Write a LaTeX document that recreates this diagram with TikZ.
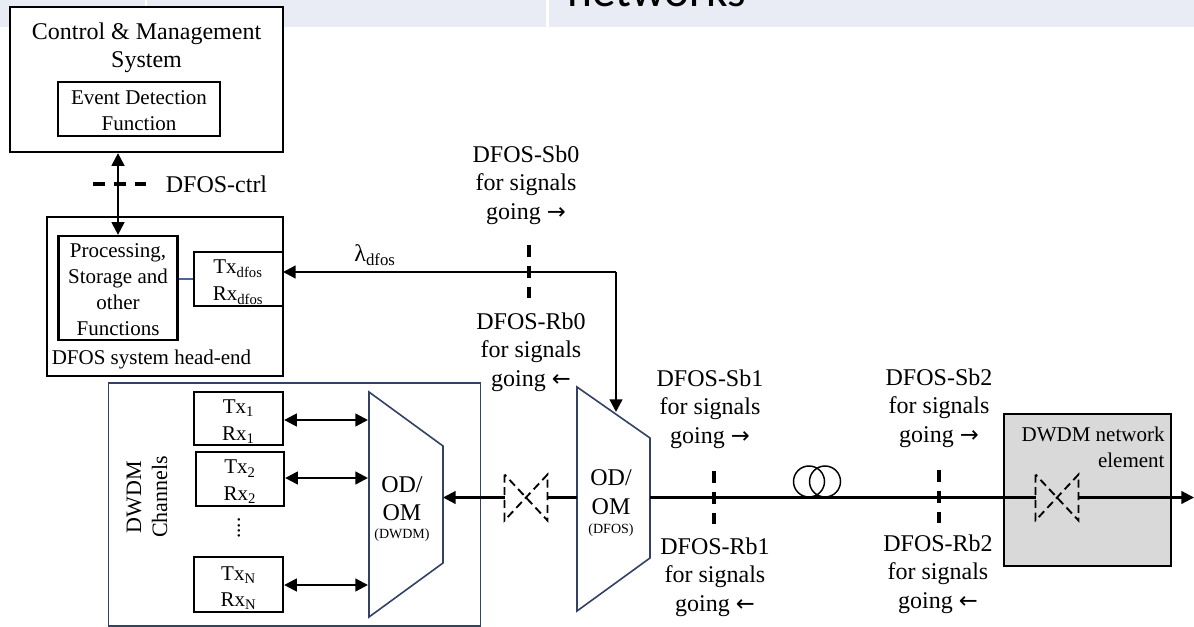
\documentclass[tikz,border=0pt]{standalone}
\usepackage{fontspec}
\setmainfont{Liberation Serif}
\newfontfamily\bannerfont{Carlito}
\newfontfamily\arrowfont{DejaVu Sans}
\usetikzlibrary{arrows.meta}

\tikzset{every picture/.style={line width=0.75pt}}
\tikzset{
  wh/.style 2 args={minimum width=#1*0.75pt,minimum height=#2*0.75pt,inner sep=0pt},
  blockbox/.style={draw,line width=1.7pt,fill=white},
  slatebox/.style={draw=slateline,line width=1.2pt,fill=white},
  bigtext/.style={inner sep=0pt,align=center,font=\fontsize{18}{21.4}\selectfont},
  midtext/.style={inner sep=0pt,align=center,font=\fontsize{15.75}{19.5}\selectfont},
  smalltext/.style={inner sep=0pt,align=center,font=\fontsize{10.5}{13}\selectfont},
  bothtip/.style={line width=1.7pt,{Triangle[length=9.5pt,width=9.5pt]}-{Triangle[length=9.5pt,width=9.5pt]}},
  endtip/.style={line width=1.7pt,-{Triangle[length=9.5pt,width=9.5pt]}},
  plainline/.style={line width=1.7pt},
  refpoint/.style={line width=2.6pt,dash pattern=on 8.75pt off 6.9pt},
  bowtie/.style={line width=1.4pt,dash pattern=on 6pt off 3.5pt},
}
\definecolor{bannerblue}{RGB}{233,235,245}
\definecolor{slateline}{RGB}{50,65,100}
\definecolor{linkblue}{RGB}{74,101,150}
\definecolor{elementgray}{RGB}{217,217,217}

\newcommand{\goright}{going {\arrowfont\fontsize{17}{21.4}\selectfont →}}
\newcommand{\goleft}{going {\arrowfont\fontsize{17}{21.4}\selectfont ←}}

\begin{document}
\begin{tikzpicture}[x=0.75pt,y=0.75pt,yscale=-1,xscale=1]
\useasboundingbox (0,0) rectangle (1194,627);

%Banner
\fill [bannerblue] (0,0) rectangle (145,27);
\fill [bannerblue] (147,0) rectangle (546,27);
\fill [bannerblue] (549,0) rectangle (1194,27);
\draw (567,7) node (banner) [anchor=base west,inner sep=0pt,font=\bannerfont\fontsize{35.5}{40}\selectfont] {networks};

%Control box
\node (ctrl) [blockbox,wh={273}{145}] at (146.5,79.5) {};
\node (event) [blockbox,wh={162}{54}] at (139,109) {};
%Head-end box
\node (headend) [blockbox,wh={236}{159}] at (165,296.5) {};
\node (proc) [blockbox,wh={119}{104}] at (118,288) {};
\node (txd) [blockbox,wh={89}{54}] at (238.5,279) {};
%DWDM box
\node (dwdmbox) [slatebox,wh={372}{243}] at (294.5,504.5) {};
\node (chone) [blockbox,wh={89}{53}] at (238.5,418.5) {};
\node (chtwo) [blockbox,wh={88}{54}] at (240,479) {};
\node (chn) [blockbox,wh={89}{55}] at (238.5,584.5) {};
%Network element
\node (element) [draw,line width=1.7pt,fill=elementgray,wh={167}{152}] at (1087.5,490) {};

%Points on the slanted shapes and free ends
\coordinate (muxa) at (368,420);
\coordinate (muxb) at (368,478);
\coordinate (muxn) at (368,585);
\coordinate (muxout) at (443,497.5);
\coordinate (demuxin) at (577,497.5);
\coordinate (demuxout) at (650,497.5);
\coordinate (demuxtop) at (616,412);
\coordinate (corner) at (616,272);
\coordinate (txport) at (283,272);
\coordinate (lineend) at (1194,497.5);

%Trapezoids
\draw [line width=1.2pt,draw=slateline,fill=white] (369,392) -- (443,446) -- (443,563) -- (369,617) -- cycle ;
\draw [line width=1.2pt,draw=slateline,fill=white] (577,387) -- (650,438) -- (650,558) -- (577,611) -- cycle ;

%Connectors
\draw [bothtip] (ctrl.south -| proc.north) -- (proc.north) ;
\draw [draw=linkblue,line width=1.2pt] (proc.east |- txd.west) -- (txd.west) ;
\draw [endtip] (corner) -- (txport) ;
\draw [endtip] (corner) -- (demuxtop) ;
\draw [bothtip] (chone.east |- muxa) -- (muxa) ;
\draw [bothtip] (chtwo.east |- muxb) -- (muxb) ;
\draw [bothtip] (chn.east |- muxn) -- (muxn) ;

%Bowties
\node (bowa) [fill=white,wh={42}{45}] at (526,497.5) {};
\node (bowb) [wh={42}{45}] at (1057,497.5) {};
\draw [plainline] (demuxin) -- (bowa.east) ;
\draw [endtip] (bowa.west) -- (muxout) ;
\draw [plainline] (demuxout) -- (bowb.west) ;
\draw [endtip] (bowb.east) -- (lineend) ;
\draw [bowtie] (bowa.north west) -- (bowa.south west) -- (bowa.north east) -- (bowa.south east) -- cycle ;
\draw [bowtie] (bowb.north west) -- (bowb.south west) -- (bowb.north east) -- (bowb.south east) -- cycle ;

%Fibre coil
\node (coila) [draw,circle,line width=1.1pt,wh={31}{31}] at (809,481.5) {};
\node (coilb) [draw,circle,line width=1.1pt,wh={31}{31}] at (825,481.5) {};

%Reference points
\coordinate (ctrla) at (93,184);
\coordinate (ctrlb) at (147,184);
\coordinate (sba) at (529,245);
\coordinate (sbb) at (529,298);
\coordinate (sca) at (714,471);
\coordinate (scb) at (714,524);
\coordinate (sda) at (939,470);
\coordinate (sdb) at (939,523);
\draw [refpoint] (ctrla) -- (ctrlb) ;
\draw [refpoint] (sba) -- (sbb) ;
\draw [refpoint] (sca) -- (scb) ;
\draw [refpoint] (sda) -- (sdb) ;

% Text Node
\draw (146.5,48) node (ctrltext) [bigtext] {Control \& Management\\System};
% Text Node
\draw (139,111) node (eventtext) [midtext] {Event Detection\\Function};
% Text Node
\draw (216.5,184) node (ctrllabel) [bigtext] {DFOS-ctrl};
% Text Node
\draw (118,290) node (proctext) [midtext] {Processing,\\Storage and\\other\\Functions};
% Text Node
\draw (151.5,359) node (headtext) [midtext] {DFOS system head-end};
% Text Node
\draw (238,282) node (txdtext) [midtext,font=\fontsize{15.75}{20.5}\selectfont] {Tx\textsubscript{dfos}\\Rx\textsubscript{dfos}};
% Text Node
\draw (375,255) node (lambda) [bigtext] {λ\textsubscript{dfos}};
% Text Node
\draw (526,185) node (sbzero) [bigtext] {DFOS-Sb0\\for signals\\\goright};
% Text Node
\draw (531,352) node (rbzero) [bigtext] {DFOS-Rb0\\for signals\\\goleft};
% Text Node
\draw (710,409) node (sbone) [bigtext] {DFOS-Sb1\\for signals\\\goright};
% Text Node
\draw (715,577) node (rbone) [bigtext] {DFOS-Rb1\\for signals\\\goleft};
% Text Node
\draw (939,408) node (sbtwo) [bigtext] {DFOS-Sb2\\for signals\\\goright};
% Text Node
\draw (938,574) node (rbtwo) [bigtext] {DFOS-Rb2\\for signals\\\goleft};
% Text Node
\draw (147,497) node (chtext) [midtext,rotate=90,font=\fontsize{16.5}{19.5}\selectfont] {DWDM\\Channels};
% Text Node
\draw (238.5,421.5) node (chonetext) [midtext,font=\fontsize{15.75}{20}\selectfont] {Tx\textsubscript{1}\\Rx\textsubscript{1}};
% Text Node
\draw (240,482) node (chtwotext) [midtext,font=\fontsize{15.75}{20}\selectfont] {Tx\textsubscript{2}\\Rx\textsubscript{2}};
% Text Node
\draw (238.5,588) node (chntext) [midtext,font=\fontsize{15.75}{20}\selectfont] {Tx\textsubscript{N}\\Rx\textsubscript{N}};
% Text Node
\draw (239,528) node (chdots) [midtext,rotate=90] {....};
% Text Node
\draw (402,498.5) node (odomd) [bigtext] {OD/\\OM};
% Text Node
\draw (402,535) node (odomdsub) [smalltext] {(DWDM)};
% Text Node
\draw (611,492) node (odomf) [bigtext] {OD/\\OM};
% Text Node
\draw (611,530) node (odomfsub) [smalltext] {(DFOS)};
% Text Node
\draw (1165,447) node (elementtext) [midtext,align=right,anchor=east] {DWDM network\\element};

\end{tikzpicture}
\end{document}
